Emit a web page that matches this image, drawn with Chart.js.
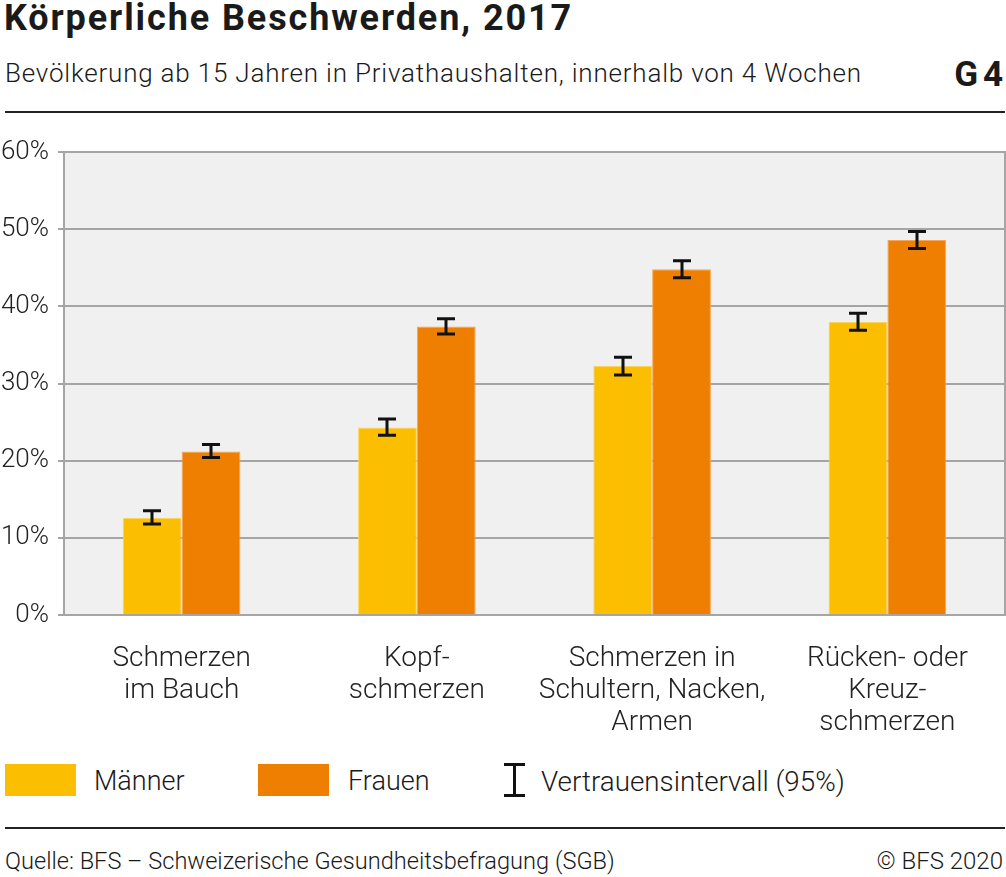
<!DOCTYPE html>
<html>
<head>
<meta charset="utf-8">
<script src="https://cdn.jsdelivr.net/npm/chart.js@4"></script>
<style>
  body { margin:0; width:1006px; height:877px; background:#fff; font-family:Roboto, sans-serif; color:#1a1a1a; position:relative; overflow:hidden; }
  .abs { position:absolute; white-space:nowrap; }
  #title { left:4px; top:-3px; font-size:36px; font-weight:700; letter-spacing:1.9px; }
  #subtitle { left:5px; top:58px; font-size:26px; font-weight:300; letter-spacing:0.8px; }
  #gnum { right:3px; top:54px; font-size:35px; font-weight:700; word-spacing:-4px; }
  .rule { position:absolute; left:5px; width:1000px; height:2px; background:#222; }
  #chartBox { position:absolute; left:0; top:130px; width:1006px; height:615px; }
  .sw { position:absolute; width:71px; height:32px; top:764px; }
  .lg { position:absolute; top:765px; font-size:27px; font-weight:300; }
  #source { left:5px; top:847px; font-size:23.6px; font-weight:300; }
  #copy { right:3px; top:847px; font-size:24px; font-weight:300; }
</style>
</head>
<body>
<div class="abs" id="title">Körperliche Beschwerden, 2017</div>
<div class="abs" id="subtitle">Bevölkerung ab 15 Jahren in Privathaushalten, innerhalb von 4 Wochen</div>
<div class="abs" id="gnum">G 4</div>
<div class="rule" style="top:111px"></div>

<div id="chartBox"><canvas id="chart" width="1006" height="615"></canvas></div>

<div id="legend"></div>

<div class="rule" style="top:827px"></div>
<div class="abs" id="source">Quelle: BFS – Schweizerische Gesundheitsbefragung (SGB)</div>
<div class="abs" id="copy">© BFS 2020</div>

<script>
// Daten
const categories = [
    ['Schmerzen', 'im Bauch'],
    ['Kopf-', 'schmerzen'],
    ['Schmerzen in', 'Schultern, Nacken,', 'Armen'],
    ['Rücken- oder', 'Kreuz-', 'schmerzen']
];
const maenner   = [12.6, 24.3, 32.3, 38.0];
const maennerLo = [11.8, 23.3, 31.1, 36.9];
const maennerHi = [13.5, 25.4, 33.4, 39.1];
const frauen    = [21.2, 37.4, 44.8, 48.6];
const frauenLo  = [20.4, 36.4, 43.7, 47.5];
const frauenHi  = [22.1, 38.4, 45.9, 49.7];
const yMax = 60;
const yStep = 10;

const seriesNames = ['Männer', 'Frauen'];
const seriesColors = ['#fbbe00', '#ef7f00'];
const seriesBorders = ['#fcd35a', '#f5a55a'];
const ciLabel = 'Vertrauensintervall (95%)';

// Legende (HTML)
const legend = document.getElementById('legend');
legend.innerHTML = `
    <div class="sw" style="left:5px; background:${seriesColors[0]}"></div>
    <div class="lg" style="left:94px">${seriesNames[0]}</div>
    <div class="sw" style="left:258px; background:${seriesColors[1]}"></div>
    <div class="lg" style="left:348px">${seriesNames[1]}</div>
    <div style="position:absolute; left:513px; top:764px; width:3px; height:32px; background:#111"></div>
    <div style="position:absolute; left:504px; top:763px; width:21px; height:3px; background:#111"></div>
    <div style="position:absolute; left:504px; top:794px; width:21px; height:3px; background:#111"></div>
    <div class="lg" style="left:541px; font-size:27.8px">${ciLabel}</div>
`;

// Hintergrund + Rahmen der Zeichenfläche
const plotBg = {
    id: 'plotBg',
    beforeDraw(chart) {
        const { ctx, chartArea: a } = chart;
        ctx.save();
        ctx.fillStyle = '#f0f0f0';
        ctx.fillRect(a.left, a.top, a.right - a.left, a.bottom - a.top);
        ctx.restore();
    },
    afterDraw(chart) {
        const { ctx, chartArea: a } = chart;
        ctx.save();
        ctx.strokeStyle = '#a5a5a5';
        ctx.lineWidth = 2;
        ctx.strokeRect(a.left, a.top, a.right - a.left, a.bottom - a.top);
        ctx.restore();
    }
};

// Fehlerbalken
const errorBars = {
    id: 'errorBars',
    afterDatasetsDraw(chart) {
        const { ctx } = chart;
        const y = chart.scales.y;
        const ranges = [[maennerLo, maennerHi], [frauenLo, frauenHi]];
        ctx.save();
        ctx.strokeStyle = '#111';
        ctx.lineWidth = 3;
        ranges.forEach((r, di) => {
            chart.getDatasetMeta(di).data.forEach((bar, i) => {
                const x = Math.round(bar.x);
                const yl = y.getPixelForValue(r[0][i]);
                const yh = y.getPixelForValue(r[1][i]);
                ctx.beginPath();
                ctx.moveTo(x, yl); ctx.lineTo(x, yh);
                ctx.moveTo(x - 9, yl); ctx.lineTo(x + 9, yl);
                ctx.moveTo(x - 9, yh); ctx.lineTo(x + 9, yh);
                ctx.stroke();
            });
        });
        ctx.restore();
    }
};

new Chart(document.getElementById('chart'), {
    type: 'bar',
    data: {
        labels: categories,
        datasets: [
            { label: seriesNames[0], data: maenner, backgroundColor: seriesColors[0], borderColor: seriesBorders[0], borderWidth: 1 },
            { label: seriesNames[1], data: frauen, backgroundColor: seriesColors[1], borderColor: seriesBorders[1], borderWidth: 1 }
        ]
    },
    options: {
        responsive: false,
        animation: false,
        datasets: { bar: { categoryPercentage: 0.5, barPercentage: 1.0 } },
        layout: { padding: { top: 19, right: 1, left: 0, bottom: 0 } },
        plugins: { legend: { display: false }, tooltip: { enabled: false } },
        scales: {
            x: {
                grid: { display: false, drawTicks: false },
                border: { display: false },
                ticks: { color: '#222', font: { family: 'Roboto', size: 28, weight: 300, lineHeight: 1.143 }, padding: 28, maxRotation: 0, autoSkip: false },
                afterFit(s) { s.height = 130; }
            },
            y: {
                min: 0, max: yMax,
                grid: { color: '#a5a5a5', lineWidth: 2, tickLength: 6 },
                border: { display: false },
                ticks: {
                    stepSize: yStep, padding: 9, color: '#222',
                    font: { family: 'Roboto', size: 26, weight: 300, lineHeight: 1.0 },
                    callback: v => v + '%'
                },
                afterFit(s) { s.width = 64; }
            }
        }
    },
    plugins: [plotBg, errorBars]
});
</script>
</body>
</html>
